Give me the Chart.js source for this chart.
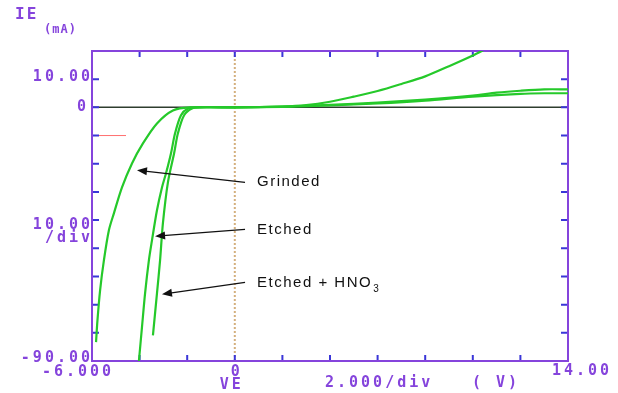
<!DOCTYPE html>
<html>
<head>
<meta charset="utf-8">
<script src="https://cdn.jsdelivr.net/npm/chart.js@4/dist/chart.umd.min.js"></script>
<style>
  html, body { margin: 0; padding: 0; background: #ffffff; }
  #wrap { width: 618px; height: 393px; }
</style>
</head>
<body>
<div id="wrap"><canvas id="chart" width="618" height="393"></canvas></div>
<script>
// VE (V) and IE (mA)
let grindedV = [-5.83, -5.77, -5.66, -5.50, -5.29, -5.08, -4.74, -4.32, -3.86, -3.27, -2.60, -1.89, 0, 2, 3, 4, 5, 6, 7, 8, 9, 10, 10.6]
let grindedI = [-83.3, -75.5, -64.9, -54.3, -43.6, -37.6, -28.4, -19.9, -12.8, -5.7, -1.1, 0, 0, 0.3, 0.8, 2.0, 3.8, 5.8, 8.3, 11.0, 14.6, 18.4, 21]

let etchedV = [-4.03, -3.90, -3.77, -3.61, -3.48, -3.27, -3.06, -2.89, -2.68, -2.51, -2.26, -1.97, -1.63, 0, 2, 4, 6, 8, 10, 11, 12, 13, 14]
let etchedI = [-90.1, -78.0, -66.0, -54.3, -47.2, -36.5, -28.4, -23.4, -16.3, -9.2, -2.8, -0.4, 0, 0, 0.3, 0.9, 1.7, 2.8, 4.2, 5.2, 5.9, 6.4, 6.4]

let hno3V = [-3.44, -3.27, -3.14, -3.02, -2.81, -2.55, -2.39, -2.13, -1.80, -1.46, 0, 2, 4, 6, 8, 10, 12, 13, 14]
let hno3I = [-80.9, -66.0, -54.3, -41.1, -26.6, -16.3, -9.2, -2.8, -0.4, 0, 0, 0.2, 0.7, 1.4, 2.4, 3.8, 4.8, 5.0, 5.0]

// axis settings (2 V/div, 10 mA/div)
let xMin = -6, xMax = 14, xStep = 2
let yMin = -90, yMax = 20, yStep = 10

// annotation: label, arrow tip [V, mA], arrow tail [V, mA]
let notes = [
    { text: "Grinded", sub: "", tip: [-4.11, -22.3], tail: [0.43, -26.6] },
    { text: "Etched", sub: "", tip: [-3.35, -45.7], tail: [0.43, -43.3] },
    { text: "Etched + HNO", sub: "3", tip: [-3.06, -66.3], tail: [0.43, -62.1] }
]

function toPoints(xs, ys) {
    return xs.map((x, i) => ({ x: x, y: ys[i] }))
}

let purple = '#8544dc'
let tickBlue = '#3a36d8'
let monoFont = 'bold 15px "DejaVu Sans Mono", monospace'

function txt(ctx, s, x, y, align) {
    ctx.textAlign = align || 'left'
    ctx.fillText(s, x, y)
}

// grid frame, zero lines and inward ticks, drawn under the traces
let framePlugin = {
    id: 'frame',
    beforeDatasetsDraw(chart) {
        let ctx = chart.ctx
        let a = chart.chartArea
        let sx = chart.scales.x
        let sy = chart.scales.y
        ctx.save()

        // faint red dash at -10 mA on the left
        ctx.strokeStyle = '#ff7070'
        ctx.lineWidth = 1
        ctx.beginPath()
        ctx.moveTo(a.left, sy.getPixelForValue(-10))
        ctx.lineTo(a.left + 34, sy.getPixelForValue(-10))
        ctx.stroke()

        // vertical zero line (dotted tan)
        ctx.strokeStyle = '#d4b07e'
        ctx.lineWidth = 2
        ctx.setLineDash([2, 2])
        ctx.beginPath()
        ctx.moveTo(sx.getPixelForValue(0), a.top)
        ctx.lineTo(sx.getPixelForValue(0), a.bottom)
        ctx.stroke()
        ctx.setLineDash([])

        // horizontal zero line
        ctx.strokeStyle = '#2e3d2e'
        ctx.lineWidth = 1.5
        ctx.beginPath()
        ctx.moveTo(a.left, sy.getPixelForValue(0))
        ctx.lineTo(a.right, sy.getPixelForValue(0))
        ctx.stroke()

        // ticks pointing into the plot
        ctx.strokeStyle = tickBlue
        ctx.lineWidth = 2
        ctx.beginPath()
        for (let v = xMin + xStep; v < xMax; v += xStep) {
            let px = sx.getPixelForValue(v)
            ctx.moveTo(px, a.top); ctx.lineTo(px, a.top + 6)
            ctx.moveTo(px, a.bottom); ctx.lineTo(px, a.bottom - 6)
        }
        for (let v = yMin + yStep; v < yMax; v += yStep) {
            let py = sy.getPixelForValue(v)
            ctx.moveTo(a.left, py); ctx.lineTo(a.left + 7, py)
            ctx.moveTo(a.right, py); ctx.lineTo(a.right - 7, py)
        }
        ctx.stroke()

        // border
        ctx.strokeStyle = purple
        ctx.lineWidth = 2
        ctx.strokeRect(a.left, a.top, a.right - a.left, a.bottom - a.top)
        ctx.restore()
    },
    afterDraw(chart) {
        let ctx = chart.ctx
        let a = chart.chartArea
        let sx = chart.scales.x
        let sy = chart.scales.y
        ctx.save()

        // instrument style labels
        ctx.fillStyle = purple
        ctx.font = 'bold 16px "DejaVu Sans Mono", monospace'
        ctx.letterSpacing = '2px'
        ctx.textBaseline = 'middle'
        txt(ctx, 'IE', 15, 15)
        ctx.font = 'bold 12px "DejaVu Sans Mono", monospace'
        ctx.letterSpacing = '1px'
        txt(ctx, '(mA)', 44, 30)
        ctx.font = monoFont
        ctx.letterSpacing = '3px'
        txt(ctx, '10.00', a.left + 1, sy.getPixelForValue(10) - 2, 'right')
        txt(ctx, '0', a.left - 3, sy.getPixelForValue(0), 'right')
        txt(ctx, '10.00', a.left + 1, sy.getPixelForValue(-40) + 5, 'right')
        txt(ctx, '/div', a.left + 1, sy.getPixelForValue(-40) + 18, 'right')
        txt(ctx, '-90.00', a.left + 1, a.bottom - 3, 'right')
        txt(ctx, '-6.000', a.left - 14, a.bottom + 11, 'center')
        txt(ctx, '0', sx.getPixelForValue(0) + 2, a.bottom + 11, 'center')
        txt(ctx, 'VE', sx.getPixelForValue(0) - 3, a.bottom + 24, 'center')
        txt(ctx, '2.000/div', 325, a.bottom + 22)
        txt(ctx, '( V)', 472, a.bottom + 22)
        txt(ctx, '14.00', a.right + 14, a.bottom + 10, 'center')

        // arrows with labels
        ctx.letterSpacing = '1.5px'
        ctx.strokeStyle = '#111111'
        ctx.fillStyle = '#111111'
        ctx.lineWidth = 1.2
        for (const n of notes) {
            let tx = sx.getPixelForValue(n.tip[0]), ty = sy.getPixelForValue(n.tip[1])
            let ex = sx.getPixelForValue(n.tail[0]), ey = sy.getPixelForValue(n.tail[1])
            let ang = Math.atan2(ty - ey, tx - ex)
            ctx.beginPath()
            ctx.moveTo(ex, ey)
            ctx.lineTo(tx - 8 * Math.cos(ang), ty - 8 * Math.sin(ang))
            ctx.stroke()
            ctx.beginPath()
            ctx.moveTo(tx, ty)
            ctx.lineTo(tx - 10 * Math.cos(ang) + 4 * Math.sin(ang), ty - 10 * Math.sin(ang) - 4 * Math.cos(ang))
            ctx.lineTo(tx - 10 * Math.cos(ang) - 4 * Math.sin(ang), ty - 10 * Math.sin(ang) + 4 * Math.cos(ang))
            ctx.closePath()
            ctx.fill()

            ctx.font = '15px "Liberation Sans", Arial, sans-serif'
            ctx.textAlign = 'left'
            ctx.fillText(n.text, ex + 12, ey)
            if (n.sub) {
                let w = ctx.measureText(n.text).width
                ctx.font = '10px "Liberation Sans", Arial, sans-serif'
                ctx.fillText(n.sub, ex + 12 + w + 1, ey + 7)
            }
        }
        ctx.restore()
    }
}

let ctx = document.getElementById('chart')
let trace = '#25c92a'

let chart = new Chart(ctx, {
    type: 'scatter',
    data: {
        datasets: [
            { label: 'Grinded', data: toPoints(grindedV, grindedI) },
            { label: 'Etched', data: toPoints(etchedV, etchedI) },
            { label: 'Etched + HNO3', data: toPoints(hno3V, hno3I) }
        ].map(d => Object.assign(d, {
            showLine: true,
            borderColor: trace,
            borderWidth: 2.2,
            pointRadius: 0,
            tension: 0.3,
            fill: false
        }))
    },
    options: {
        responsive: false,
        animation: false,
        layout: { padding: { left: 92, right: 50, top: 51, bottom: 32 } },
        scales: {
            x: { type: 'linear', min: xMin, max: xMax, display: false },
            y: { type: 'linear', min: yMin, max: yMax, display: false }
        },
        plugins: {
            legend: { display: false },
            tooltip: { enabled: false }
        }
    },
    plugins: [framePlugin]
})
</script>
</body>
</html>
